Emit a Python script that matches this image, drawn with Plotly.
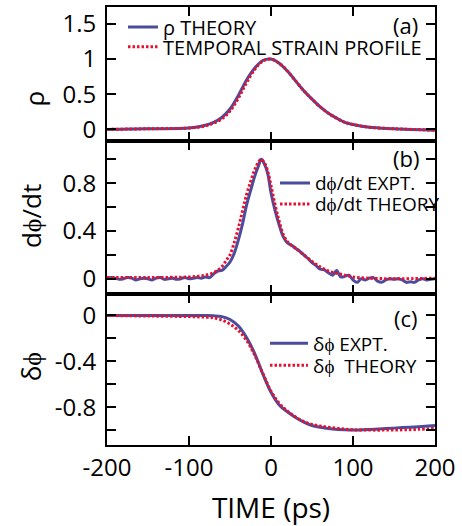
import plotly.graph_objects as go

# ---------------- data ----------------
# panel (a): rho theory and temporal strain profile
t_a = [-200, -150, -100, -80, -70, -60, -50, -40, -30, -20, -10, 0, 10, 20, 30, 40,
       50, 60, 70, 80, 90, 100, 120, 150, 200]
rho_theory = [0.0, 0.01, 0.02, 0.06, 0.10, 0.17, 0.29, 0.48, 0.70, 0.87, 0.98, 1.0, 0.94,
              0.83, 0.69, 0.55, 0.43, 0.32, 0.23, 0.16, 0.10, 0.07, 0.03, 0.01, -0.01]
strain_profile = [0.0, 0.01, 0.02, 0.05, 0.09, 0.15, 0.26, 0.44, 0.66, 0.85, 0.97, 1.0, 0.94,
                  0.83, 0.69, 0.55, 0.43, 0.32, 0.23, 0.16, 0.10, 0.07, 0.03, 0.01, -0.01]

# panel (b): dphi/dt experiment and theory
t_b_expt = [-200, -195, -190, -185, -180, -175, -170, -165, -160, -155, -150, -145, -140,
            -135, -130, -125, -120, -115, -110, -105, -100, -95, -90, -85, -80, -75, -70,
            -65, -60, -55, -50, -45, -40, -35, -30, -25, -20, -15, -12, -8, -4, 0, 5, 10,
            15, 20, 25, 30, 35, 40, 45, 50, 55, 60, 65, 70, 75, 80, 85, 90, 95, 100, 105,
            110, 115, 120, 125, 130, 135, 140, 145, 150, 155, 160, 165, 170, 175, 180, 185,
            190, 195, 200]
dphidt_expt = [0.0, 0.01, 0.005, -0.005, 0.0, 0.01, 0.005, -0.01, 0.0, 0.005, 0.0, -0.01,
               0.005, 0.01, -0.005, 0.0, 0.005, -0.005, 0.0, 0.01, 0.0, 0.005, 0.01, 0.005,
               0.015, 0.01, 0.04, 0.065, 0.07, 0.10, 0.14, 0.21, 0.32, 0.45, 0.61, 0.735,
               0.855, 0.95, 1.0, 0.96, 0.88, 0.72, 0.57, 0.45, 0.35, 0.30, 0.28, 0.255, 0.23,
               0.20, 0.17, 0.135, 0.11, 0.08, 0.075, 0.05, 0.03, 0.07, 0.015, 0.02, 0.03,
               -0.01, -0.03, 0.0, -0.01, 0.005, 0.01, -0.02, -0.03, -0.01, 0.0, -0.005, 0.0,
               -0.01, -0.03, -0.025, -0.03, -0.01, 0.0, -0.01, -0.005, 0.0]
t_b_theory = [-200, -150, -100, -90, -80, -70, -60, -55, -50, -45, -40, -35, -30, -25, -20,
              -15, -12, -8, -4, 0, 5, 10, 15, 20, 25, 30, 40, 50, 60, 70, 80, 90, 100, 120,
              150, 200]
dphidt_theory = [0.01, 0.01, 0.015, 0.02, 0.03, 0.05, 0.10, 0.15, 0.20, 0.30, 0.42, 0.56,
                 0.70, 0.81, 0.91, 0.98, 1.0, 0.97, 0.90, 0.78, 0.62, 0.48, 0.37, 0.31, 0.28,
                 0.255, 0.20, 0.145, 0.10, 0.065, 0.045, 0.03, 0.015, 0.005, 0.0, 0.005]

# panel (c): delta phi experiment and theory
t_c = [-200, -150, -100, -80, -70, -60, -50, -40, -30, -20, -10, 0, 10, 20, 30, 40, 50, 60,
       75, 90, 100, 120, 140, 160, 180, 200]
dphi_expt = [0.0, 0.0, 0.0, -0.001, -0.003, -0.01, -0.035, -0.09, -0.19, -0.33, -0.51, -0.67,
             -0.78, -0.84, -0.89, -0.93, -0.96, -0.975, -0.99, -0.998, -1.0, -0.995, -0.987,
             -0.978, -0.97, -0.96]
dphi_theory = [0.0, -0.005, -0.01, -0.015, -0.02, -0.04, -0.075, -0.13, -0.215, -0.345,
               -0.505, -0.66, -0.765, -0.835, -0.885, -0.925, -0.95, -0.965, -0.98, -0.992,
               -0.998, -1.0, -1.0, -0.998, -0.993, -0.985]

x_ticks = [-200, -100, 0, 100, 200]
x_text = ["-200", "-100", "0", "100", "200"]
ya_ticks = [0, 0.5, 1, 1.5]
ya_text = ["0", "0.5", "1", "1.5"]
yb_ticks = [0, 0.2, 0.4, 0.6, 0.8, 1.0]
yb_text = ["0", "", "0.4", "", "0.8", ""]
yc_ticks = [0, -0.2, -0.4, -0.6, -0.8, -1.0]
yc_text = ["0", "", "-0.4", "", "-0.8", ""]

# ---------------- style ----------------
BLUE = "#4a4c9e"
RED = "#e8102e"
FONT = "Open Sans"
W, H = 462, 526
L, R, T, B = 107, 27, 5, 81
PW, PH = W - L - R, H - T - B


def px(xp):
    return (xp - L) / PW


def py(yp):
    return (H - B - yp) / PH


fig = go.Figure()

blue_line = dict(color=BLUE, width=3)
red_line = dict(color=RED, width=3, dash="2.5px,2px")

fig.add_trace(go.Scatter(x=t_a, y=rho_theory, mode="lines", line=blue_line, line_shape="spline",
                         name="ρ THEORY", xaxis="x3", yaxis="y3", legend="legend"))
fig.add_trace(go.Scatter(x=t_a, y=strain_profile, mode="lines", line=red_line, line_shape="spline",
                         name="TEMPORAL STRAIN PROFILE", xaxis="x3", yaxis="y3", legend="legend2"))
fig.add_trace(go.Scatter(x=t_b_expt, y=dphidt_expt, mode="lines", line=blue_line,
                         line_shape="spline", name="dϕ/dt EXPT.", xaxis="x2", yaxis="y2",
                         legend="legend3"))
fig.add_trace(go.Scatter(x=t_b_theory, y=dphidt_theory, mode="lines", line=red_line,
                         line_shape="spline", name="dϕ/dt THEORY", xaxis="x2", yaxis="y2",
                         legend="legend4"))
fig.add_trace(go.Scatter(x=t_c, y=dphi_expt, mode="lines", line=blue_line, line_shape="spline",
                         name="δϕ EXPT.", xaxis="x", yaxis="y", legend="legend5"))
fig.add_trace(go.Scatter(x=t_c, y=dphi_theory, mode="lines", line=red_line, line_shape="spline",
                         name="δϕ\u00a0\u00a0THEORY", xaxis="x", yaxis="y", legend="legend6"))

h_c = 152 / PH
h_b = 153 / PH

axis_common = dict(showline=True, linewidth=2, linecolor="black", mirror="ticks",
                   ticks="inside", ticklen=9, tickwidth=2, tickcolor="black",
                   showgrid=False, zeroline=False,
                   tickfont=dict(family=FONT, size=24, color="black"))

xcommon = dict(axis_common, range=[-200, 200], tickvals=x_ticks, ticktext=x_text)

fig.update_layout(
    width=W, height=H,
    margin=dict(l=L, r=R, t=T, b=B),
    plot_bgcolor="white", paper_bgcolor="white",
    font=dict(family=FONT, color="black"),
    xaxis=dict(xcommon, anchor="y", domain=[0, 1],
               title=dict(text="TIME (ps)", font=dict(family=FONT, size=28), standoff=19)),
    xaxis2=dict(xcommon, anchor="y2", matches="x", showticklabels=False),
    xaxis3=dict(xcommon, anchor="y3", matches="x", showticklabels=False),
    yaxis=dict(axis_common, domain=[0, h_c], range=[-1.13, 0.19], tickvals=yc_ticks,
               ticktext=yc_text, anchor="x", ticklabelstandoff=4),
    yaxis2=dict(axis_common, domain=[h_c, h_c + h_b], range=[-0.125, 1.15], tickvals=yb_ticks,
                ticktext=yb_text, anchor="x2", ticklabelstandoff=4),
    yaxis3=dict(axis_common, domain=[h_c + h_b, 1], range=[-0.17, 1.74], tickvals=ya_ticks,
                ticktext=ya_text, anchor="x3", ticklabelstandoff=4),
    showlegend=True,
)

leg_rows = {
    "legend": (128, 25, 20, 30),
    "legend2": (128, 45, 20, 30),
    "legend3": (280, 182, 19, 30),
    "legend4": (280, 203, 19, 30),
    "legend5": (270, 343, 19, 38),
    "legend6": (270, 365, 19, 38),
}
for key, (sx, sy, fs, iw) in leg_rows.items():
    fig.update_layout({key: dict(x=px(sx - 5), y=py(sy), xanchor="left", yanchor="middle",
                                 bgcolor="rgba(0,0,0,0)", borderwidth=0, itemwidth=iw,
                                 font=dict(family=FONT, size=fs, color="black"))})

annos = [
    ("(a)", 405, 23, 22, 0),
    ("(b)", 406, 157, 22, 0),
    ("(c)", 406, 317, 22, 0),
    ("ρ", 34, 97, 26, -90),
    ("dϕ/dt", 31, 215, 26, -90),
    ("δϕ", 31, 367, 26, -90),
]
for text, ax, ay, fs, ang in annos:
    fig.add_annotation(text=text, x=px(ax), y=py(ay), xref="paper", yref="paper",
                       showarrow=False, xanchor="center", yanchor="middle", textangle=ang,
                       font=dict(family=FONT, size=fs, color="black"))

fig.write_html("out.html")
